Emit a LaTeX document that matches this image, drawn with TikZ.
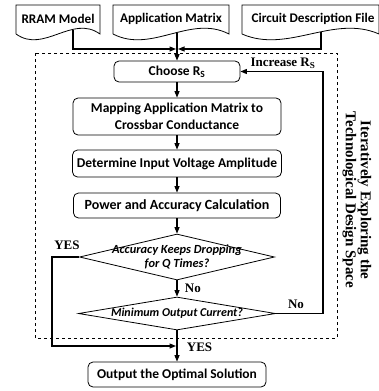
\documentclass[tikz,border=0pt]{standalone}
\usepackage{fontspec}
\setmainfont{Carlito}
\newfontfamily\tnr{Liberation Serif}
\usetikzlibrary{arrows.meta,shapes.geometric}
\begin{document}
\begin{tikzpicture}[x=1pt,y=-1pt,
  proc/.style={draw, line width=0.8pt, rounded corners=5pt, font=\fontsize{13.5}{17}\selectfont\bfseries, align=center, inner sep=0pt},
  dec/.style={draw, diamond, line width=0.8pt, inner sep=0pt},
  dtext/.style={font=\fontsize{12.4}{13.5}\selectfont\bfseries\itshape, align=center},
  doc/.style={draw, line width=0.8pt},
  doctext/.style={font=\fontsize{13.2}{16}\selectfont\bfseries},
  arr/.style={line width=1.1pt, -{Triangle[length=6.5pt,width=5pt]}},
  lbl/.style={font=\fontsize{13}{15}\selectfont\tnr\bfseries},
  dashbox/.style={draw, dashed, line width=0.7pt},
]
\useasboundingbox (0,0) rectangle (378,391);

% dashed region
\draw[dashbox] (35,53) rectangle (337,338);

% document shapes
\draw[doc] (16,34) -- (16,5) -- (100,5) -- (100,34) .. controls (72,14) and (44,54) .. (16,34);
\node[doctext] (rram) at (58,19) {RRAM Model};
\draw[doc] (113,34) -- (113,5) -- (229,5) -- (229,34) .. controls (190.3,14) and (151.7,54) .. (113,34);
\node[doctext] (app) at (171,19) {Application Matrix};
\draw[doc] (242,34) -- (242,5) -- (379,5) -- (379,34) .. controls (333.3,14) and (287.7,54) .. (242,34);
\node[doctext] (circ) at (313,19) {Circuit Description File};

\coordinate (rramb) at (73,29.5);
\coordinate (appb) at (177,32.5);
\coordinate (circb) at (321,31.8);
\coordinate (join) at (177,49);

% process boxes
\node[proc, minimum width=126pt, minimum height=21pt] (choose) at (177,71.5) {Choose R\textsubscript{S}};
\node[proc, minimum width=208pt, minimum height=37pt] (map) at (177,116.5) {Mapping Application Matrix to\\Crossbar Conductance};
\node[proc, minimum width=209pt, minimum height=27pt] (det) at (177,163.5) {Determine Input Voltage Amplitude};
\node[proc, minimum width=207pt, minimum height=25pt, font=\fontsize{14}{17}\selectfont\bfseries] (pow) at (177,205.5) {Power and Accuracy Calculation};
\node[dec, minimum width=195pt, minimum height=46pt,
  label={[dtext]center:Accuracy Keeps Dropping\\for Q Times?}] (d1) at (177,257) {};
\node[dec, minimum width=197pt, minimum height=33pt,
  label={[dtext, font=\fontsize{12}{13.5}\selectfont\bfseries\itshape]center:Minimum Output Current?}] (d2) at (177,313.5) {};
\node[proc, minimum width=178pt, minimum height=25pt] (out) at (177,374.5) {Output the Optimal Solution};

% inputs
\draw[arr] (rramb) |- ([xshift=-1pt]join);
\draw[arr] (circb) |- ([xshift=1pt]join);
\draw[arr] (appb) -- (choose.north);

% main flow
\draw[arr] (choose) -- (map);
\draw[arr] (map) -- (det);
\draw[arr] (det) -- (pow);
\draw[arr] (pow) -- (d1);
\draw[arr] (d1) -- node[lbl, right=4pt] {No} (d2);
\draw[arr] (d2) -- node[lbl, pos=0.55, right=6pt] {YES} (out);

% YES loop
\coordinate (yesj) at (177,346);
\draw[arr] (d1.west) -- (52,257) |- ([xshift=-1pt]yesj);
\node[lbl] (yes1) at (67,245) {YES};

% No loop
\draw[arr] (d2.east) -- (323,313.5) |- (choose.east);
\node[lbl] (no2) at (296,304) {No};
\node[lbl] (inc) at (283,63) {Increase R\textsubscript{S}};

% side text
\node[font=\fontsize{15}{15}\selectfont\tnr\bfseries, align=center, rotate=-90] (side) at (357,200)
  {Iteratively Exploring the\\Technological Design Space};
\end{tikzpicture}
\end{document}
